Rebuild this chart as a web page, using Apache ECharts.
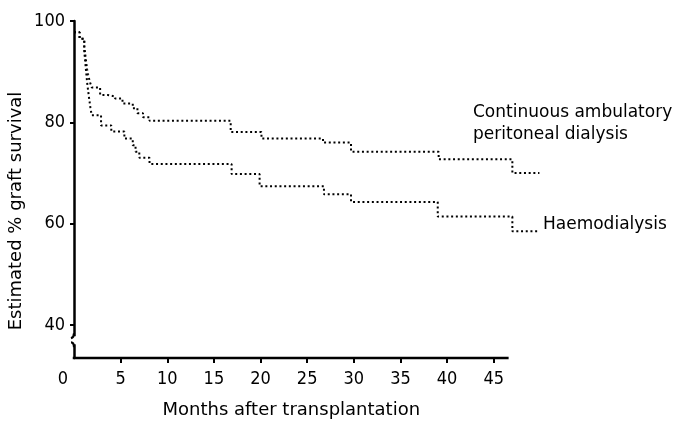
<!DOCTYPE html>
<html>
<head>
<meta charset="utf-8">
<script src="https://cdn.jsdelivr.net/npm/echarts@6/dist/echarts.min.js"></script>
<style>
html,body{margin:0;padding:0;background:#fff;}
#c{width:682px;height:421px;}
</style>
</head>
<body>
<div id="c"></div>
<script>
// Tick labels
var xTickLabels = [0, 5, 10, 15, 20, 25, 30, 35, 40, 45];
var xTickMarks = [5, 10, 15, 20, 25, 30, 35, 40, 45];
var yTickLabels = [40, 60, 80, 100];
var xAxisEnd = 46.6; // drawn length of the printed x axis (months)
var xTitle = 'Months after transplantation';
var yTitle = 'Estimated % graft survival';

// Kaplan-Meier steps: [month, estimated % graft survival]
var capdSurvival = [
  [0, 97.8], [0.6, 96.5], [1.1, 95], [1.2, 93.5], [1.3, 92], [1.4, 90.5], [1.5, 89.5],
  [1.7, 88], [1.9, 86.9], [2.8, 85.4], [3.6, 85.1], [4.4, 84.7], [5.2, 83.7], [6.3, 82.8],
  [6.8, 81.8], [7.4, 81.0], [8.1, 80.3], [16.8, 78.1], [20.1, 76.8], [26.7, 76.0],
  [29.7, 74.2], [39.1, 72.7], [47.0, 70.0], [49.9, 70.0]
];
var haemoSurvival = [
  [0, 97.8], [0.6, 96.5], [1.1, 94], [1.25, 91], [1.4, 88], [1.6, 85], [1.75, 83],
  [1.9, 81.4], [2.9, 79.4], [4.0, 78.2], [5.4, 76.8], [6.3, 75.5], [6.6, 74.2], [7.0, 73.0],
  [8.1, 71.8], [16.9, 69.8], [19.9, 67.4], [26.8, 65.8], [29.7, 64.3], [39.0, 61.4],
  [47.0, 58.5], [49.7, 58.5]
];
var seriesNames = ['Continuous ambulatory peritoneal dialysis', 'Haemodialysis'];

var FONT = '"DejaVu Sans", sans-serif';
var CFONT = '"DejaVu Sans Condensed", "DejaVu Sans", sans-serif';
var chart = echarts.init(document.getElementById('c'), null, {renderer: 'canvas'});

var dotted = {color: '#000', width: 2, type: [2, 2.7], cap: 'butt'};

chart.setOption({
  animation: false,
  backgroundColor: '#fff',
  grid: {left: 74, right: 137, top: 21, bottom: 63, containLabel: false},
  xAxis: {
    type: 'value', min: 0, max: 50.5,
    axisLine: {show: false},
    axisTick: {show: true, length: 5, lineStyle: {color: '#000', width: 2}, customValues: xTickMarks},
    axisLabel: {
      fontFamily: CFONT, fontSize: 18, color: '#000', margin: 12,
      customValues: xTickLabels,
      formatter: function (v) { return v === 0 ? '{z|0}' : String(v); },
      rich: {z: {fontFamily: CFONT, fontSize: 18, color: '#000', padding: [0, 22, 0, 0]}}
    },
    splitLine: {show: false}
  },
  yAxis: {
    type: 'value', min: 33.5, max: 100,
    axisLine: {show: true, lineStyle: {color: '#000', width: 2.5}},
    axisTick: {show: true, length: 4, lineStyle: {color: '#000', width: 2}, customValues: yTickLabels},
    axisLabel: {fontFamily: CFONT, fontSize: 18, color: '#000', margin: 9, customValues: yTickLabels},
    splitLine: {show: false}
  },
  series: [
    {name: seriesNames[0], type: 'line', step: 'end', data: capdSurvival, showSymbol: false,
     symbol: 'none', clip: false, lineStyle: dotted, z: 3},
    {name: seriesNames[1], type: 'line', step: 'end', data: haemoSurvival, showSymbol: false,
     symbol: 'none', clip: false, lineStyle: dotted, z: 3}
  ]
});

// Printed x axis line, axis break mark, axis titles and series annotations
var o = chart.convertToPixel({gridIndex: 0}, [0, 33.5]);
var e = chart.convertToPixel({gridIndex: 0}, [xAxisEnd, 33.5]);
var pTop = chart.convertToPixel({gridIndex: 0}, [0, 37.6]);
var pBot = chart.convertToPixel({gridIndex: 0}, [0, 36.4]);
var ax = pTop[0];
chart.setOption({
  graphic: [
    {type: 'line', z: 100, shape: {x1: o[0] - 1.25, y1: o[1], x2: e[0], y2: e[1]},
     style: {stroke: '#000', lineWidth: 2.5}},
    {type: 'rect', z: 100, shape: {x: ax - 5, y: pTop[1] - 1, width: 10, height: pBot[1] - pTop[1] + 2},
     style: {fill: '#fff'}},
    {type: 'bezierCurve', z: 101,
     shape: {x1: ax, y1: pTop[1] - 4, cpx1: ax, cpy1: pTop[1], x2: ax - 3, y2: pTop[1] + 1},
     style: {stroke: '#000', lineWidth: 2.2, fill: null}},
    {type: 'bezierCurve', z: 101,
     shape: {x1: ax - 3, y1: pBot[1] - 1, cpx1: ax, cpy1: pBot[1] - 1, x2: ax, y2: pBot[1] + 4},
     style: {stroke: '#000', lineWidth: 2.2, fill: null}},
    {type: 'text', z: 50, x: (o[0] + e[0]) / 2, y: 410,
     style: {x: 0, y: 0, text: xTitle, fill: '#000', font: '18px ' + FONT, verticalAlign: 'middle', align: 'center'}},
    {type: 'text', z: 50, x: 16, y: 211, rotation: Math.PI / 2,
     style: {x: 0, y: 0, text: yTitle, fill: '#000', font: '18px ' + FONT, verticalAlign: 'middle', align: 'center'}},
    {type: 'text', z: 50, style: {x: 473, y: 113, text: 'Continuous ambulatory', fill: '#000',
      font: '17px ' + FONT, verticalAlign: 'middle', align: 'left'}},
    {type: 'text', z: 50, style: {x: 473, y: 135, text: 'peritoneal dialysis', fill: '#000',
      font: '17px ' + FONT, verticalAlign: 'middle', align: 'left'}},
    {type: 'text', z: 50, style: {x: 543, y: 225, text: 'Haemodialysis', fill: '#000',
      font: '17px ' + FONT, verticalAlign: 'middle', align: 'left'}}
  ]
});
</script>
</body>
</html>
